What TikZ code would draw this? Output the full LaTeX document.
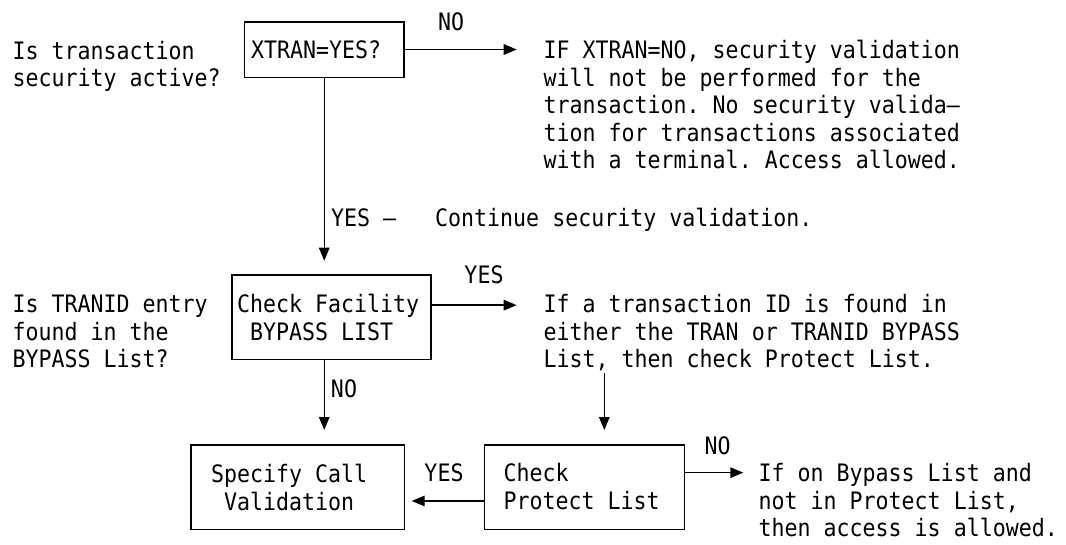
\documentclass[tikz,border=0pt]{standalone}
\usepackage{fontspec}
\newfontfamily\flowmono[FakeStretch=0.9]{DejaVu Sans Mono}
\usetikzlibrary{arrows.meta}

% one typewriter face for every text in the chart
\newcommand\flowfont{\flowmono\fontsize{24pt}{27.5pt}\selectfont\frenchspacing}
% stacked left-aligned lines whose baseline is the first line's
\newcommand\rows[1]{\begin{tabular}[t]{@{}l@{}}#1\end{tabular}}

\tikzset{
  txt/.style={anchor=base west, inner sep=0pt, font=\flowfont},
  lbl/.style={anchor=base, inner sep=0pt, font=\flowfont},
  box/.style={draw, rectangle, line width=1.6pt, inner sep=0pt, outer sep=0pt},
  flow/.style={line width=1.4pt, -{Triangle[length=13pt,width=10.5pt]}},
}

\begin{document}
\begin{tikzpicture}[x=1pt,y=-1pt]
\useasboundingbox (0,0) rectangle (1066,544);

% decision and action boxes
\node[box, minimum width=159.5pt, minimum height=55.6pt] (xtran)   at (324.25,49.5) {};
\node[box, minimum width=199pt,   minimum height=84.3pt] (bypass)  at (331.2,317.15) {};
\node[box, minimum width=213.3pt, minimum height=84.3pt] (specify) at (297.65,487.15) {};
\node[box, minimum width=200pt,   minimum height=84.3pt] (protect) at (584.3,487.15) {};

% texts inside the boxes
\node[txt] (xtran-t)   at (251,58.5)    {XTRAN=YES?};
\node[txt] (bypass-t)  at (237,312.7)   {\rows{Check Facility\\\ BYPASS LIST}};
\node[txt] (specify-t) at (211,482.7)   {\rows{Specify Call\\\ Validation}};
\node[txt] (protect-t) at (503.5,481.7) {\rows{Check\\Protect List}};

% questions on the left
\node[txt] (q1) at (12.5,59)    {\rows{Is transaction\\security active?}};
\node[txt] (q2) at (12.5,312.7) {\rows{Is TRANID entry\\found in the\\BYPASS List?}};

% outcome notes
\node[txt] (ifno) at (543.5,58.7) {\rows{IF XTRAN=NO, security validation\\will not be performed for the\\transaction. No security valida—\\tion for transactions associated\\with a terminal. Access allowed.}};
\node[txt] (cont) at (331,226.7) {YES —\ \ \ Continue security validation.};
\node[txt] (ifid) at (543.5,312.7) {\rows{If a transaction ID is found in\\either the TRAN or TRANID BYPASS\\List, then check Protect List.}};
\node[txt] (bypassok) at (758.5,481.7) {\rows{If on Bypass List and\\not in Protect List,\\then access is allowed.}};

% branch labels
\node[lbl] (no1)  at (451,30.5)   {NO};
\node[lbl] (yes2) at (484,283)    {YES};
\node[lbl] (no2)  at (344,397)    {NO};
\node[lbl] (yes3) at (444,481.7)  {YES};
\node[lbl] (no3)  at (717.5,454)  {NO};

% connectors
\draw[flow, shorten >=26.8pt] (xtran.east) -- (xtran.east -| ifno.west);
\draw[flow, shorten >=14.3pt] (xtran.south) -- (xtran.south |- bypass.north);
\draw[flow, shorten >=26.8pt] ([yshift=12pt]bypass.east) -- ([yshift=12pt]bypass.east -| ifid.west);
\coordinate (nofork) at (bypass.south -| xtran.south);
\draw[flow, shorten >=15pt] (nofork) -- (nofork |- specify.north);
\coordinate (comma) at (604.3,373);
\draw[flow, shorten >=15pt] (comma) -- (comma |- protect.north);
\draw[flow, shorten >=7.4pt] ([yshift=-13.8pt]protect.west) -- ([yshift=-13.8pt]protect.west -| specify.east);
\draw[flow, shorten >=15.2pt] ([yshift=14.5pt]protect.east) -- ([yshift=14.5pt]protect.east -| bypassok.west);
\end{tikzpicture}
\end{document}
